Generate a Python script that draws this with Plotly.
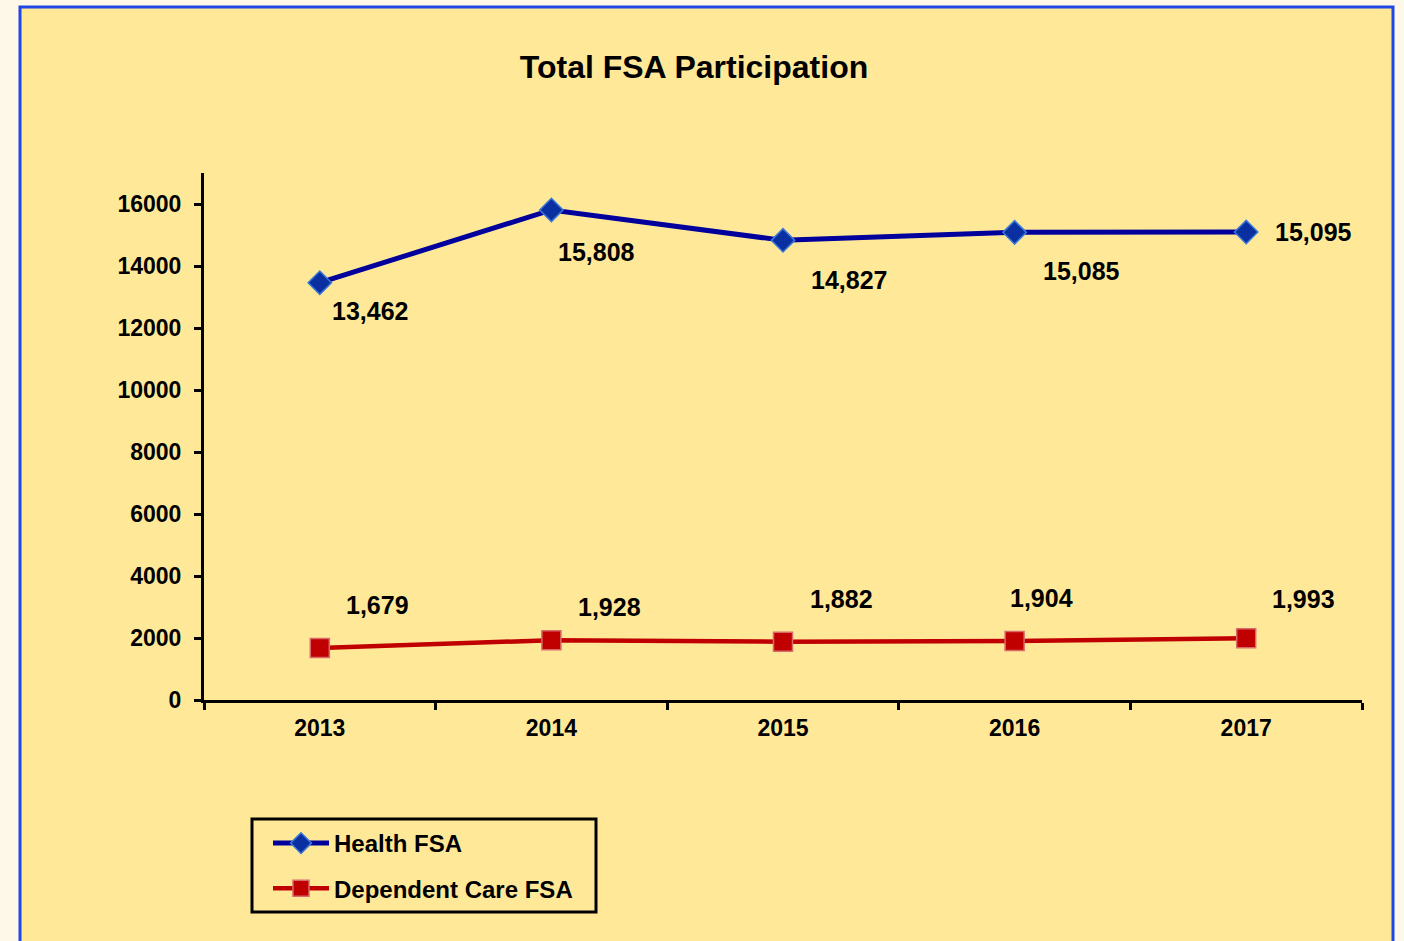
import plotly.graph_objects as go

# Plan participation by year
years = ["2013", "2014", "2015", "2016", "2017"]
health_fsa = [13462, 15808, 14827, 15085, 15095]
dependent_care_fsa = [1679, 1928, 1882, 1904, 1993]

# Pixel offsets of each value label from its marker (x right, y up)
health_label_dx = [50, 45, 66, 67, 67]
health_label_dy = [-28, -42, -40, -39, 0]
dep_label_dx = [58, 58, 58, 27, 57]
dep_label_dy = [43, 33, 43, 43, 39]

FONT = "Liberation Sans, Arial, sans-serif"
W, H = 1404, 941
L, R, T, B = 204, 42, 173, 241
PW, PH = W - L - R, H - T - B


def px_x(px):
    return (px - L) / PW


def px_y(py):
    return (H - B - py) / PH


fig = go.Figure()

fig.add_trace(go.Scatter(
    x=years, y=health_fsa, name="Health FSA", mode="lines+markers",
    legendgroup="h",
    line=dict(color="#00009C", width=5),
    marker=dict(symbol="diamond", size=18, color="#0A2FA0",
                line=dict(color="#3C78D8", width=1.5)),
))
fig.add_trace(go.Scatter(
    x=years, y=dependent_care_fsa, name="Dependent Care FSA", mode="lines+markers",
    legendgroup="d",
    line=dict(color="#C00000", width=4.5),
    marker=dict(symbol="square", size=19, color="#C00000",
                line=dict(color="#D86A6A", width=1.5)),
))

label_font = dict(family=FONT, size=25, color="#000000", weight="bold")
annotations = []
# category axes place annotations by category index
for i, (v, dx, dy) in enumerate(zip(health_fsa, health_label_dx, health_label_dy)):
    annotations.append(dict(x=i, y=v, xref="x", yref="y", text=f"{v:,}",
                            showarrow=False, xshift=dx, yshift=dy, font=label_font))
for i, (v, dx, dy) in enumerate(zip(dependent_care_fsa, dep_label_dx, dep_label_dy)):
    annotations.append(dict(x=i, y=v, xref="x", yref="y", text=f"{v:,}",
                            showarrow=False, xshift=dx, yshift=dy, font=label_font))

shapes = [
    # chart frame
    dict(type="rect", xref="paper", yref="paper", layer="below",
         x0=px_x(20), x1=px_x(1393), y0=px_y(960), y1=px_y(7),
         fillcolor="#FFE999", line=dict(color="#2046E6", width=3)),
    # legend box
    dict(type="rect", xref="paper", yref="paper", layer="above",
         x0=px_x(252), x1=px_x(596), y0=px_y(912), y1=px_y(819),
         fillcolor="rgba(0,0,0,0)", line=dict(color="#000000", width=3)),
]

fig.update_layout(
    width=W, height=H,
    margin=dict(l=L, r=R, t=T, b=B, autoexpand=False),
    paper_bgcolor="#FEF8E8",
    plot_bgcolor="rgba(0,0,0,0)",
    title=dict(text="Total FSA Participation", x=694 / W, xref="container",
               xanchor="center", y=1 - 67 / H, yref="container", yanchor="middle",
               font=dict(family=FONT, size=32, color="#000000", weight="bold")),
    showlegend=True,
    legend=dict(x=px_x(268), y=px_y(821), xanchor="left", yanchor="top",
                xref="paper", yref="paper",
                bgcolor="rgba(0,0,0,0)", borderwidth=0,
                traceorder="grouped", tracegroupgap=11, itemwidth=56,
                font=dict(family=FONT, size=24, color="#000000", weight="bold")),
    xaxis=dict(type="category", range=[-0.5, 4.5], tickson="boundaries",
               showline=True, linecolor="#000000", linewidth=3,
               ticks="outside", ticklen=7, tickwidth=3, tickcolor="#000000",
               ticklabelstandoff=5,
               showgrid=False, zeroline=False,
               tickfont=dict(family=FONT, size=23, color="#000000", weight="bold")),
    yaxis=dict(range=[0, 17000], tickmode="linear", tick0=0, dtick=2000,
               tickformat="d",
               showline=True, linecolor="#000000", linewidth=3,
               ticks="outside", ticklen=7, tickwidth=3, tickcolor="#000000",
               ticklabelstandoff=8,
               showgrid=False, zeroline=False,
               tickfont=dict(family=FONT, size=23, color="#000000", weight="bold")),
    annotations=annotations,
    shapes=shapes,
)

fig.write_html("out.html")
